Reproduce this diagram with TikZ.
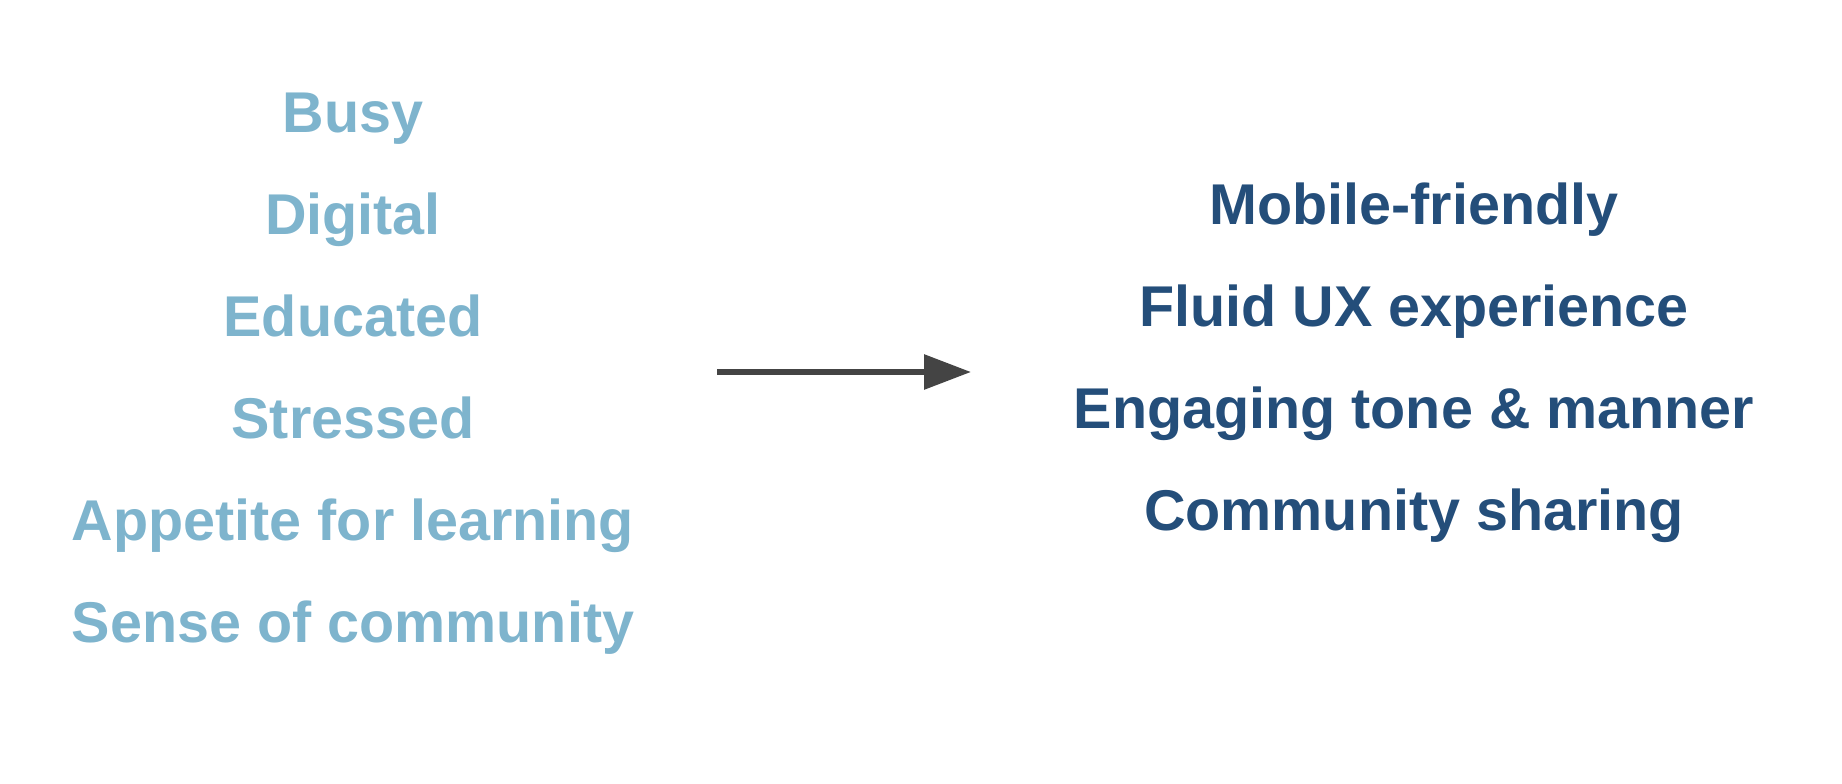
\documentclass[tikz,border=0pt]{standalone}
\usepackage{fontspec}
\setmainfont{Liberation Sans}
\usetikzlibrary{arrows.meta}
\definecolor{lightb}{HTML}{7EB4CD}
\definecolor{darkb}{HTML}{244E7A}
\definecolor{arrowc}{HTML}{444444}
\begin{document}
\begin{tikzpicture}[x=1pt,y=1pt,
  lefttxt/.style={anchor=base,inner sep=0pt,text=lightb,font=\fontsize{57.5}{60}\selectfont\bfseries},
  righttxt/.style={anchor=base,inner sep=0pt,text=darkb,font=\fontsize{57.5}{60}\selectfont\bfseries},
  arr/.style={draw=arrowc,line width=6pt,-{Triangle[length=47pt,width=34pt]}}]
\useasboundingbox (0,0) rectangle (1842,-784);
\node[lefttxt] (l1) at (353,-132) {Busy};
\node[lefttxt] (l2) at (353,-234) {Digital};
\node[lefttxt] (l3) at (353,-336) {Educated};
\node[lefttxt] (l4) at (353,-438) {Stressed};
\node[lefttxt] (l5) at (353,-540) {Appetite for learning};
\node[lefttxt] (l6) at (353,-642) {Sense of community};
\node[righttxt] (r1) at (1414,-224) {Mobile-friendly};
\node[righttxt] (r2) at (1414,-326) {Fluid UX experience};
\node[righttxt] (r3) at (1414,-428) {Engaging tone \& manner};
\node[righttxt] (r4) at (1414,-530) {Community sharing};
\coordinate (a) at (717,-372);
\coordinate (b) at (971,-372);
\draw[arr] (a) -- (b);
\end{tikzpicture}
\end{document}
